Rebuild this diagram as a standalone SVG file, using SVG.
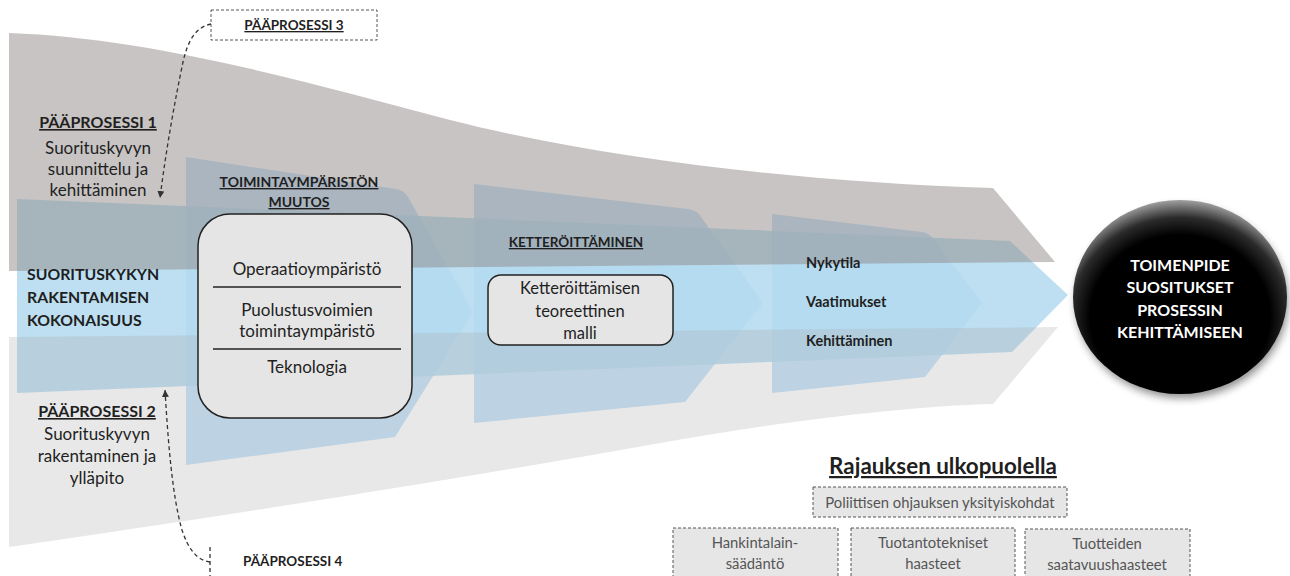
<svg xmlns="http://www.w3.org/2000/svg" width="1290" height="576" viewBox="0 0 1290 576">
  <defs>
    <style>
      text { font-family: Lato, "Liberation Sans", sans-serif; fill: #1f1f1f; }
      .bold { font-weight: bold; }
      .ul { text-decoration: underline; }
      .mid { text-anchor: middle; }
      .chev { fill: #c5e1f7; }
      .panel { fill: #e5e5e5; stroke: #222; stroke-width: 1.5; }
      .rule { stroke: #222; stroke-width: 1.5; }
      .scope { fill: #e6e6e6; stroke: #555; stroke-width: 1; stroke-dasharray: 3 2; }
      .scope-text { fill: #555; font-size: 14.8px; text-anchor: middle; }
      .dash { fill: none; stroke: #333; stroke-width: 1.3; stroke-dasharray: 4 3; }
      .white { fill: #fff; }
    </style>
    <marker id="arrow" viewBox="0 0 8 8" refX="8" refY="4" markerWidth="7" markerHeight="7" markerUnits="userSpaceOnUse" orient="auto">
      <path d="M0,0 L8,4 L0,8 Z" fill="#333"/>
    </marker>
    <radialGradient id="gloss" cx="0.5" cy="0.6" r="0.6">
      <stop offset="0" stop-color="#000"/>
      <stop offset="0.7" stop-color="#000"/>
      <stop offset="0.85" stop-color="#2b2b2b"/>
      <stop offset="1" stop-color="#a0a0a0"/>
    </radialGradient>
    <filter id="soft" x="-20%" y="-20%" width="140%" height="140%">
      <feGaussianBlur stdDeviation="4"/>
    </filter>
  </defs>

  <!-- phase chevrons (under the main flow) -->
  <g id="chevron-1"><path class="chev" d="M186,157 L396,189 Q404,190 408,197 L473,312 L395,437 L186,465 Z"/></g>
  <g id="chevron-2"><path class="chev" d="M474,184 L688,209 Q697,210 701,217 L763,303 L685,402 L474,423 Z"/></g>
  <g id="chevron-3"><path class="chev" d="M772,214 L922,232 Q930,233 934,240 L982,303 L925,377 L772,393 Z"/></g>

  <!-- main flow arrow -->
  <g id="main-flow"><path d="M17,199 L1010,241 L1068,295 L1012,352 L17,393 Z" fill="#b1d9ef" fill-opacity="0.85"/></g>

  <!-- process bands -->
  <g id="band-process-1"><path d="M9,33 C150,38 300,80 450,120 C600,158 800,182 993,188 L1055,262 L9,271 Z" fill="#8f8987" fill-opacity="0.5"/></g>
  <g id="band-process-2"><path d="M9,337 L1058,327 L993,404 C900,406 760,425 660,443 C520,468 300,505 9,547 Z" fill="#aaaaaa" fill-opacity="0.27"/></g>

  <!-- connectors -->
  <g id="connectors">
    <path class="dash" d="M211,24 C196,27 188,40 183,62 C175,100 166,150 160,198" marker-end="url(#arrow)"/>
    <path class="dash" d="M210,562 C196,560 188,548 182,530 C172,495 168,440 165,390" marker-end="url(#arrow)"/>
    <line class="dash" x1="210" y1="547" x2="210" y2="576"/>
  </g>

  <g id="paaprosessi-3">
    <rect x="211" y="10" width="166" height="30" fill="#fff" stroke="#555" stroke-width="1" stroke-dasharray="3 2"/>
    <text x="294" y="30" class="bold ul mid" font-size="13.5">PÄÄPROSESSI 3</text>
  </g>

  <g id="paaprosessi-4">
    <text x="243" y="566" class="bold" font-size="13.5">PÄÄPROSESSI 4</text>
  </g>

  <g id="paaprosessi-1">
    <text x="98" y="128" class="bold ul mid" font-size="16">PÄÄPROSESSI 1</text>
    <text x="98" y="154" class="mid" font-size="17">Suorituskyvyn</text>
    <text x="98" y="175" class="mid" font-size="17">suunnittelu ja</text>
    <text x="98" y="196" class="mid" font-size="17">kehittäminen</text>
  </g>

  <g id="kokonaisuus">
    <text x="27" y="280" class="bold" font-size="15.8">SUORITUSKYKYN</text>
    <text x="27" y="303" class="bold" font-size="15.8">RAKENTAMISEN</text>
    <text x="27" y="326" class="bold" font-size="15.8">KOKONAISUUS</text>
  </g>

  <g id="paaprosessi-2">
    <text x="97" y="417" class="bold ul mid" font-size="16">PÄÄPROSESSI 2</text>
    <text x="97" y="440" class="mid" font-size="17">Suorituskyvyn</text>
    <text x="97" y="462" class="mid" font-size="17">rakentaminen ja</text>
    <text x="97" y="484" class="mid" font-size="17">ylläpito</text>
  </g>

  <g id="toimintaympariston-muutos">
    <text x="299" y="187" class="bold ul mid" font-size="14">TOIMINTAYMPÄRISTÖN</text>
    <text x="299" y="207" class="bold ul mid" font-size="14">MUUTOS</text>
    <rect class="panel" x="198" y="214" width="214" height="204" rx="32" ry="32"/>
    <text x="307" y="275" class="mid" font-size="17">Operaatioympäristö</text>
    <line class="rule" x1="213" y1="287" x2="401" y2="287"/>
    <text x="307" y="316" class="mid" font-size="17">Puolustusvoimien</text>
    <text x="307" y="337" class="mid" font-size="17">toimintaympäristö</text>
    <line class="rule" x1="213" y1="349" x2="401" y2="349"/>
    <text x="307" y="373" class="mid" font-size="17">Teknologia</text>
  </g>

  <g id="ketteroittaminen">
    <text x="576" y="247" class="bold ul mid" font-size="13.5">KETTERÖITTÄMINEN</text>
    <rect class="panel" x="488" y="275" width="185" height="70" rx="13" ry="13"/>
    <text x="580" y="294" class="mid" font-size="16.5">Ketteröittämisen</text>
    <text x="580" y="317" class="mid" font-size="16.5">teoreettinen</text>
    <text x="580" y="339" class="mid" font-size="16.5">malli</text>
  </g>

  <g id="arviointi">
    <text x="806" y="268" class="bold" font-size="14.5">Nykytila</text>
    <text x="806" y="307" class="bold" font-size="14.5">Vaatimukset</text>
    <text x="806" y="346" class="bold" font-size="14.5">Kehittäminen</text>
  </g>

  <g id="toimenpidesuositukset">
    <ellipse cx="1182" cy="302" rx="106" ry="96" fill="#000" opacity="0.45" filter="url(#soft)"/>
    <ellipse cx="1180" cy="297" rx="107" ry="97" fill="url(#gloss)"/>
    <text x="1180" y="271" class="bold mid white" font-size="16">TOIMENPIDE</text>
    <text x="1180" y="293" class="bold mid white" font-size="16">SUOSITUKSET</text>
    <text x="1180" y="316" class="bold mid white" font-size="16">PROSESSIN</text>
    <text x="1180" y="338" class="bold mid white" font-size="16">KEHITTÄMISEEN</text>
  </g>

  <g id="rajauksen-ulkopuolella">
    <text x="943" y="474" class="bold ul mid" font-size="22.4">Rajauksen ulkopuolella</text>
  </g>
  <g id="poliittinen-ohjaus">
    <rect class="scope" x="813" y="487" width="254" height="30"/>
    <text x="940" y="508" class="scope-text">Poliittisen ohjauksen yksityiskohdat</text>
  </g>
  <g id="hankintalainsaadanto">
    <rect class="scope" x="673" y="528" width="165" height="60"/>
    <text x="755" y="548" class="scope-text">Hankintalain-</text>
    <text x="755" y="569" class="scope-text">säädäntö</text>
  </g>
  <g id="tuotantotekniset-haasteet">
    <rect class="scope" x="851" y="528" width="164" height="60"/>
    <text x="933" y="548" class="scope-text">Tuotantotekniset</text>
    <text x="933" y="569" class="scope-text">haasteet</text>
  </g>
  <g id="saatavuushaasteet">
    <rect class="scope" x="1025" y="529" width="165" height="60"/>
    <text x="1107" y="549" class="scope-text">Tuotteiden</text>
    <text x="1107" y="570" class="scope-text">saatavuushaasteet</text>
  </g>
</svg>
